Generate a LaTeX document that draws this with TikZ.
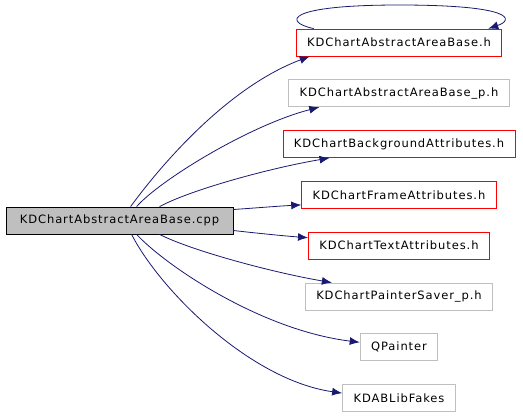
\documentclass[tikz,border=0pt]{standalone}
\usepackage{fontspec}
\setmainfont{DejaVu Sans}[LetterSpace=8]
\usepackage{xcolor}
\usepackage{tikz}
\usetikzlibrary{arrows.meta,positioning}
\definecolor{EdgeBlue}{HTML}{191970}
\definecolor{BoxGrey}{HTML}{BFBFBF}
\definecolor{BoxRed}{HTML}{FF0000}

\begin{document}
\begin{tikzpicture}[x=1pt, y=-1pt, node distance=23pt, every node/.style={font=\fontsize{11.5}{13}\selectfont, minimum height=27pt, inner xsep=11pt, inner ysep=0pt, line width=0.8pt},
	hdr/.style={draw=BoxRed}, ext/.style={draw=BoxGrey}, arr/.style={-{Latex[length=10pt,width=8pt]},EdgeBlue,line width=0.8pt}]
		\useasboundingbox (0,0) rectangle (523,416);
		\node[draw,fill=BoxGrey,minimum width=227pt] (cpp) at (119.5,220.5) {KDChartAbstractAreaBase.cpp};
		\node[hdr] (areah) at (399,42.5) {KDChartAbstractAreaBase.h};
		\node[ext,below=of areah] (areap) {KDChartAbstractAreaBase\_p.h};
		\node[hdr,below=of areap] (bg) {KDChartBackgroundAttributes.h};
		\node[hdr,below=of bg] (frame) {KDChartFrameAttributes.h};
		\node[hdr,below=of frame] (text) {KDChartTextAttributes.h};
		\node[ext,below=of text] (saver) {KDChartPainterSaver\_p.h};
		\node[ext,below=of saver] (qpainter) {QPainter};
		\node[ext,below=of qpainter] (fakes) {KDABLibFakes};
		% edges out of the top of cpp
		\draw[arr] ([xshift=125pt]cpp.north west) .. controls (150,180) and (220,90) .. ([xshift=14pt]areah.south west);
		\draw[arr] ([xshift=131pt]cpp.north west) .. controls (160,180) and (250,125) .. ([xshift=31pt]areap.south west);
		\draw[arr] ([xshift=154pt]cpp.north west) .. controls (190,190) and (270,168) .. ([xshift=47pt]bg.south west);
		% edges out of the right side
		\draw[arr] ([yshift=11pt]cpp.east) .. controls (255,208) and (280,206) .. ([yshift=-10pt]frame.west);
		\draw[arr] ([yshift=-10pt]cpp.east) .. controls (255,233) and (285,236) .. ([yshift=8pt]text.west);
		% edges out of the bottom
		\draw[arr] ([xshift=154pt]cpp.south west) .. controls (190,250) and (270,272) .. ([xshift=27pt]saver.north west);
		\draw[arr] ([xshift=131pt]cpp.south west) .. controls (165,265) and (260,330) .. ([yshift=5pt]qpainter.west);
		\draw[arr] ([xshift=126pt]cpp.south west) .. controls (160,290) and (250,380) .. ([yshift=5pt]fakes.west);
		% self loop
		\draw[arr] ([xshift=18pt]areah.north west) .. controls (283,22) and (285,5) .. (399,5) .. controls (515,5) and (514,20) .. ([xshift=-14pt]areah.north east);
	\end{tikzpicture}
\end{document}
